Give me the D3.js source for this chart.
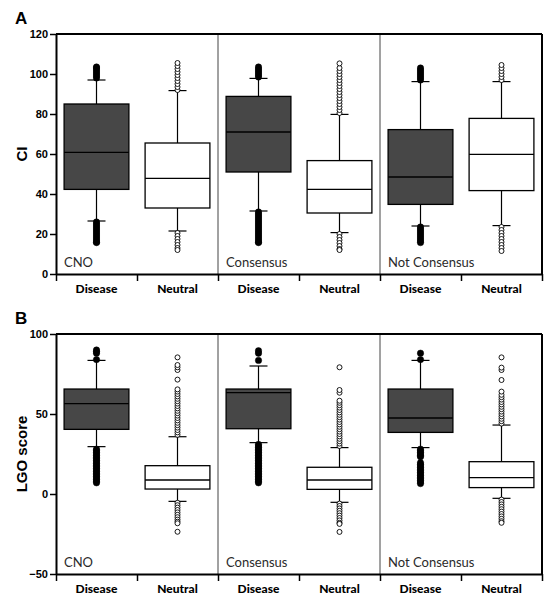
<!DOCTYPE html>
<html>
<head>
<meta charset="utf-8">
<script src="https://cdn.jsdelivr.net/npm/d3@7"></script>
<style>
  html, body { margin: 0; padding: 0; background: #fff; }
  svg { display: block; }
</style>
</head>
<body>
<svg id="chart" width="552" height="600"></svg>
<script>
// ---------- DATA ----------
const groups = ["CNO", "Consensus", "Not Consensus"];
const classes = ["Disease", "Neutral"];
// order of boxes: CNO-Disease, CNO-Neutral, Consensus-Disease, Consensus-Neutral, NotConsensus-Disease, NotConsensus-Neutral

// Panel A: CI
const ciTicks = [0, 20, 40, 60, 80, 100, 120];
const ciLowerWhisker = [26.5, 21.5, 31.5, 20.7, 24.0, 24.2];
const ciQ1          = [42.3, 33.0, 51.0, 30.5, 34.8, 41.7];
const ciMedian      = [60.8, 47.8, 71.0, 42.3, 48.5, 59.8];
const ciQ3          = [85.0, 65.5, 88.8, 56.7, 72.2, 77.8];
const ciUpperWhisker= [97.0, 91.7, 97.8, 79.8, 96.2, 96.2];
const ciOutliers = [
  [98, 99, 100, 101, 102, 103, 103.5, 26, 25, 24, 23, 22, 21, 20, 19, 18, 17, 16, 15.7],
  [92, 93.5, 95, 96.5, 98, 99.5, 101, 102.5, 104, 105.5, 20.5, 19, 17.5, 16, 14.5, 13, 12],
  [98.5, 99.5, 100.5, 101.5, 102.5, 103.5, 31, 30, 29, 28, 27, 26, 25, 24, 23, 22, 21, 20, 19, 18, 17, 16, 15.7],
  [80.5, 82, 83.5, 85, 86.5, 88, 89.5, 91, 92.5, 94, 95.5, 97, 98.5, 100, 101.5, 103, 105.3, 20, 18.5, 17, 15.5, 14, 12.5, 12],
  [97, 98, 99, 100, 101, 102, 103, 23.5, 22.5, 21.5, 20.5, 19.5, 18.5, 17.5, 16.5, 15.7],
  [97, 98.5, 100, 101.5, 103, 104.5, 23.5, 22, 20.5, 19, 17.5, 16, 14.5, 13, 11.5]
];

// Panel B: LGO score
const lgoTicks = [-50, 0, 50, 100];
const lgoLowerWhisker = [29.6, -4.6, 32.1, -5.2, 29.0, -2.7];
const lgoQ1           = [40.4, 3.1, 40.8, 2.9, 38.5, 4.0];
const lgoMedian       = [56.5, 8.75, 63.3, 8.75, 47.5, 10.2];
const lgoQ3           = [65.6, 17.7, 65.6, 16.7, 65.6, 20.2];
const lgoUpperWhisker = [83.5, 35.8, 80.0, 29.0, 83.5, 43.1];
const lgoOutliers = [
  [84, 88, 89, 90, 28, 27, 26, 25, 24, 23, 22, 21, 20, 19, 18, 17, 16, 15, 14, 13, 12, 11, 10, 9, 8, 7],
  [37, 38.5, 40, 41.5, 43, 44.5, 46, 47.5, 49, 50.5, 52, 53.5, 55, 56.5, 58, 59.5, 61, 62.5, 64, 65.4, 71.5, 77.5, 79.2, 80.6, 85.4,
   -5.5, -7, -8.5, -10, -11.5, -13, -14.5, -16, -17.3, -18.3, -23.6],
  [83.5, 88, 89.5, 31, 30, 29, 28, 27, 26, 25, 24, 23, 22, 21, 20, 19, 18, 17, 16, 15, 14, 13, 12, 11, 10, 9, 8, 7],
  [30, 31.5, 33, 34.5, 36, 37.5, 39, 40.5, 42, 43.5, 45, 46.5, 48, 49.5, 51, 52.5, 54, 55.5, 57, 58.3, 63.3, 65, 79.2,
   -6, -7.5, -9, -10.5, -12, -13.5, -15, -16.5, -18, -18.7, -23.7],
  [84, 88, 28, 27, 26, 25, 24, 23.3, 19.5, 18.5, 17.5, 16.5, 15.5, 14.5, 13.5, 12.5, 11.5, 10.5, 9.5, 8.5, 7.5, 6.5],
  [44, 45.5, 47, 48.5, 50, 51.5, 53, 54.5, 56, 57.5, 59, 60.5, 62, 64, 71.25, 77.5, 79, 85.4,
   -3.5, -5, -6.5, -8, -9.5, -11, -12.5, -14, -15.5, -17, -18]
];

// ---------- LAYOUT ----------
const svg = d3.select("#chart");
const left = 56, right = 542;
const darkFill = "#474747";
const cats = [];
groups.forEach(g => classes.forEach(c => cats.push(g + "|" + c)));

const x = d3.scaleBand().domain(cats).range([left, right]).padding(0);
const xEdge = d3.scaleLinear().domain([0, cats.length]).range([left, right]);
const boxW = x.bandwidth() * 0.8;
const capW = 18;

function drawPanel(cfg) {
  const { top, bottom, domain, ticks, lw, q1, med, q3, uw, outliers, title, letter } = cfg;
  const y = d3.scaleLinear().domain(domain).range([bottom, top]);
  const g = svg.append("g");

  // panel letter
  g.append("text").attr("x", 15).attr("y", top - 10)
    .attr("font-family", "Liberation Sans, Arial, sans-serif").attr("font-weight", "bold")
    .attr("font-size", 17).attr("fill", "#000").text(letter);

  // y-axis title
  g.append("text")
    .attr("transform", `translate(${27},${(top + bottom) / 2}) rotate(-90)`)
    .attr("text-anchor", "middle")
    .attr("font-family", "Liberation Sans, Arial, sans-serif").attr("font-weight", "bold")
    .attr("font-size", 15).attr("fill", "#000").text(title);

  // dividers
  [2, 4].forEach(i => {
    g.append("line").attr("x1", xEdge(i)).attr("x2", xEdge(i))
      .attr("y1", top).attr("y2", bottom).attr("stroke", "#444").attr("stroke-width", 1);
  });

  // group labels
  groups.forEach((gr, i) => {
    g.append("text").attr("x", xEdge(i * 2) + 8).attr("y", bottom - 7)
      .attr("font-family", "Lato, 'Open Sans', sans-serif").attr("font-size", 13)
      .attr("fill", "#2a2a2a").text(gr);
  });

  // boxes
  cats.forEach((c, i) => {
    const isDisease = c.endsWith("Disease");
    const cx = x(c) + x.bandwidth() / 2;
    const bg = g.append("g");
    bg.append("line").attr("x1", cx).attr("x2", cx).attr("y1", y(uw[i])).attr("y2", y(lw[i]))
      .attr("stroke", "#000").attr("stroke-width", 1.2);
    [uw[i], lw[i]].forEach(v => {
      bg.append("line").attr("x1", cx - capW / 2).attr("x2", cx + capW / 2)
        .attr("y1", y(v)).attr("y2", y(v)).attr("stroke", "#000").attr("stroke-width", 1.2);
    });
    bg.selectAll("circle").data(outliers[i]).join("circle")
      .attr("cx", cx).attr("cy", d => y(d))
      .attr("r", isDisease ? 3.2 : 2.5)
      .attr("fill", isDisease ? "#000" : "#fff")
      .attr("stroke", "#000").attr("stroke-width", isDisease ? 0.5 : 0.9);
    bg.append("rect").attr("x", cx - boxW / 2).attr("width", boxW)
      .attr("y", y(q3[i])).attr("height", y(q1[i]) - y(q3[i]))
      .attr("fill", isDisease ? darkFill : "#fff").attr("stroke", "#000").attr("stroke-width", 1.3);
    bg.append("line").attr("x1", cx - boxW / 2).attr("x2", cx + boxW / 2)
      .attr("y1", y(med[i])).attr("y2", y(med[i])).attr("stroke", "#000").attr("stroke-width", 1.3);
  });

  // frame top & right
  g.append("line").attr("x1", left).attr("x2", right).attr("y1", top).attr("y2", top)
    .attr("stroke", "#000").attr("stroke-width", 2);
  g.append("line").attr("x1", right).attr("x2", right).attr("y1", top).attr("y2", bottom)
    .attr("stroke", "#000").attr("stroke-width", 2);

  // y axis
  const ya = g.append("g").attr("transform", `translate(${left},0)`)
    .call(d3.axisLeft(y).tickValues(ticks).tickSize(6).tickPadding(2).tickSizeOuter(0));
  ya.select(".domain").attr("stroke", "#000").attr("stroke-width", 2);
  ya.selectAll(".tick line").attr("stroke", "#000").attr("stroke-width", 1.5);
  ya.selectAll(".tick text").attr("font-family", "Liberation Sans, Arial, sans-serif")
    .attr("font-weight", "bold").attr("font-size", 11).attr("fill", "#000");

  // x axis (ticks at band edges)
  const xa = g.append("g").attr("transform", `translate(0,${bottom})`)
    .call(d3.axisBottom(xEdge).tickValues(d3.range(cats.length + 1)).tickSize(7).tickFormat("").tickSizeOuter(0));
  xa.select(".domain").attr("stroke", "#000").attr("stroke-width", 2);
  xa.selectAll(".tick line").attr("stroke", "#000").attr("stroke-width", 1.5);

  // category labels
  cats.forEach(c => {
    g.append("text").attr("x", x(c) + x.bandwidth() / 2).attr("y", bottom + 19)
      .attr("text-anchor", "middle")
      .attr("font-family", "Lato, 'Open Sans', sans-serif").attr("font-weight", 900)
      .attr("font-size", 12).attr("fill", "#000").text(c.split("|")[1]);
  });
}

drawPanel({ top: 34, bottom: 274, domain: [0, 120], ticks: ciTicks,
  lw: ciLowerWhisker, q1: ciQ1, med: ciMedian, q3: ciQ3, uw: ciUpperWhisker,
  outliers: ciOutliers, title: "CI", letter: "A" });

drawPanel({ top: 334, bottom: 574, domain: [-50, 100], ticks: lgoTicks,
  lw: lgoLowerWhisker, q1: lgoQ1, med: lgoMedian, q3: lgoQ3, uw: lgoUpperWhisker,
  outliers: lgoOutliers, title: "LGO score", letter: "B" });
</script>
</body>
</html>
